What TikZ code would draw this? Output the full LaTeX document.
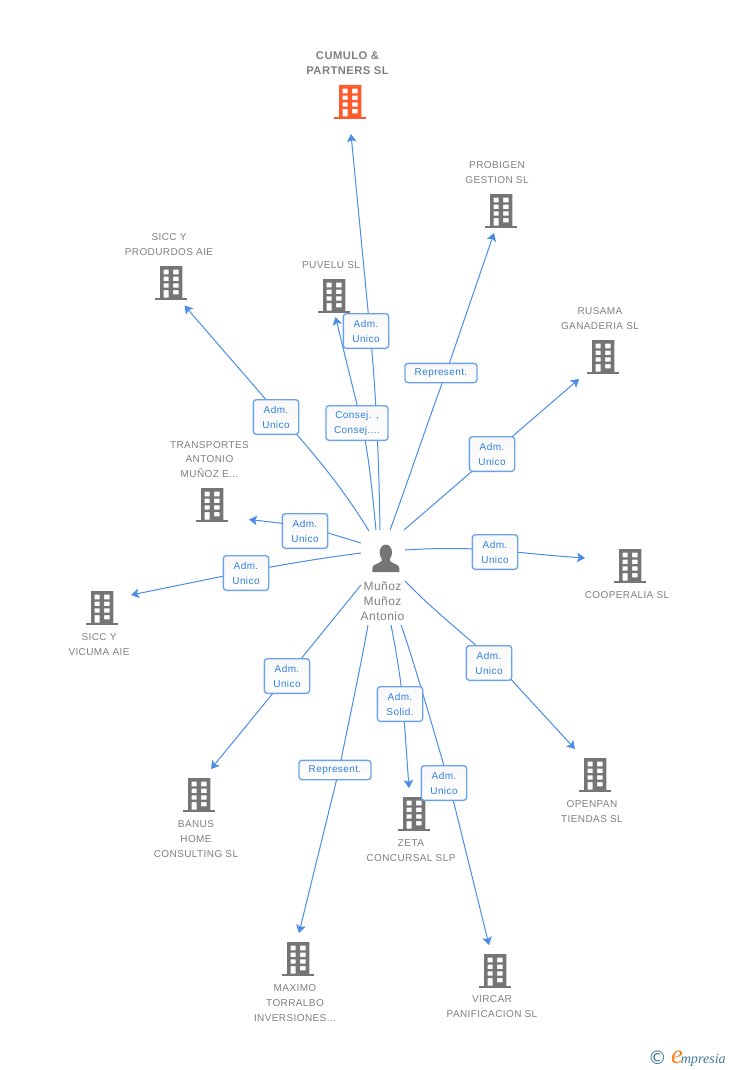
\documentclass[tikz,border=0pt]{standalone}
\usepackage{fontspec}
\setmainfont[LetterSpace=4]{Liberation Sans}
\newfontfamily\serifit{Liberation Serif}
\newfontfamily\dejavu{DejaVu Sans}
\usetikzlibrary{arrows.meta}
\definecolor{linkblue}{HTML}{4A8CE6}
\definecolor{boxblue}{HTML}{6AA3EA}
\definecolor{labelblue}{HTML}{2F7FE0}
\definecolor{graytxt}{HTML}{7F7F7F}
\definecolor{iconorange}{HTML}{FF5A2C}
\definecolor{icongray}{HTML}{757575}
\definecolor{teal}{HTML}{3E7C96}
\definecolor{eorange}{HTML}{F58220}
\tikzset{
 x=0.75pt,y=-0.75pt,
 link/.style={draw=linkblue,line width=0.75pt,line join=round,-{Stealth[length=6pt,width=7.2pt,inset=1.4pt]}},
 tag/.style={draw=boxblue,top color=black!3,bottom color=white,line width=1pt,rounded corners=2.2pt,text=labelblue,font=\fontsize{7.5}{11.2}\selectfont,align=center,inner sep=0pt,minimum width=34pt,minimum height=26pt},
 tagwide/.style={tag,minimum height=14.5pt},
 nametxt/.style={text=graytxt,font=\fontsize{7.5}{11.2}\selectfont,align=center,inner sep=0pt},
 pics/building/.style={code={
   \fill[#1,even odd rule] (-11,-17) rectangle (11.3,15)
     (-7.3,-13.3) rectangle (-2.3,-8.7) (2.2,-13.3) rectangle (7.7,-8.7)
     (-7.3,-6.3) rectangle (-2.3,-2) (2.2,-6.3) rectangle (7.7,-2)
     (-7.3,0.3) rectangle (-2.3,4.7) (2.2,0.3) rectangle (7.7,4.7)
     (-7.3,7) rectangle (-2.3,14.5) (2.2,7) rectangle (7.7,11.4);
   \fill[#1] (-15.7,14.7) rectangle (16,17);
 }}
}
\begin{document}
\begin{tikzpicture}
\useasboundingbox (0,0) rectangle (728,1070);
% buildings
\pic at (350,102) {building=iconorange};
\pic at (501,211) {building=icongray};
\pic at (171,283) {building=icongray};
\pic at (334,296) {building=icongray};
\pic at (603,357) {building=icongray};
\pic at (212,505) {building=icongray};
\pic at (630,566) {building=icongray};
\pic at (102,608) {building=icongray};
\pic at (199,795) {building=icongray};
\pic at (595,775) {building=icongray};
\pic at (414,814) {building=icongray};
\pic at (298,959) {building=icongray};
\pic at (495,971) {building=icongray};
% person
\fill[icongray] (385.8,552.5) ellipse (6.2 and 8);
\fill[icongray] (372.3,572) -- (372.3,568) .. controls (372.3,564) and (379,564) .. (381.5,561) -- (381.5,556) -- (390,556) -- (390,561) .. controls (392.5,564) and (399.3,564) .. (399.3,568) -- (399.3,572) -- cycle;
% start coordinates
\coordinate (s1) at (380,530);
\coordinate (s2) at (376,530);
\coordinate (s3) at (390,530);
\coordinate (s4) at (369,531);
\coordinate (s5) at (404,530);
\coordinate (s6) at (361,543);
\coordinate (s7) at (405,550);
\coordinate (s8) at (361,553);
\coordinate (s9) at (361,585);
\coordinate (s10) at (405,581);
\coordinate (s11) at (391,625);
\coordinate (s12) at (368,625);
\coordinate (s13) at (401,625);
% end coordinates
\coordinate (e1) at (351,134);
\coordinate (e2) at (335.5,317);
\coordinate (e3) at (494,233);
\coordinate (e4) at (184.5,305.5);
\coordinate (e5) at (579,379);
\coordinate (e6) at (249,519.5);
\coordinate (e7) at (585,558);
\coordinate (e8) at (131,595);
\coordinate (e9) at (211,769);
\coordinate (e10) at (575,749);
\coordinate (e11) at (409,788);
\coordinate (e12) at (299,933);
\coordinate (e13) at (489,945);
% points where the connectors pass behind the labels
\coordinate (v1) at (370,331);
\coordinate (v2) at (361.5,423);
\coordinate (v3) at (446,373);
\coordinate (v4) at (281,417);
\coordinate (v5) at (492,454);
\coordinate (v6) at (305,526);
\coordinate (v7) at (495,550);
\coordinate (v8) at (246,571.5);
\coordinate (v9) at (287,676);
\coordinate (v10) at (496,663);
\coordinate (v11) at (403,704);
\coordinate (v12) at (339,770);
\coordinate (v13) at (449,783);
% connectors
\draw[link] (s1) .. controls (379,460) and (376,390) .. (v1) -- (e1);
\draw[link] (s2) .. controls (372,490) and (369,455) .. (v2) -- (e2);
\draw[link] (s3) .. controls (405,490) and (430,415) .. (v3) -- (e3);
\draw[link] (s4) .. controls (350,500) and (325,465) .. (v4) -- (e4);
\draw[link] (s5) -- (v5) -- (e5);
\draw[link] (s6) -- (v6) -- (e6);
\draw[link] (s7) .. controls (435,548) and (465,548) .. (v7) .. controls (525,553) and (555,556) .. (e7);
\draw[link] (s8) .. controls (330,557) and (300,561.5) .. (v8) -- (e8);
\draw[link] (s9) -- (v9) -- (e9);
\draw[link] (s10) .. controls (435,612) and (465,635) .. (v10) -- (e10);
\draw[link] (s11) .. controls (396,650) and (401,680) .. (v11) .. controls (405,730) and (407,760) .. (e11);
\draw[link] (s12) .. controls (360,670) and (347,730) .. (v12) -- (e12);
\draw[link] (s13) .. controls (412,655) and (435,735) .. (v13) -- (e13);
% edge labels
\node[tag] (t1) at (366,331) {Adm.\\Unico};
\node[tag,minimum width=46.5pt] (t2) at (357,423) {Consej. ,\\Consej....};
\node[tagwide,minimum width=54pt] (t3) at (441,373) {Represent.};
\node[tag] (t4) at (276,417) {Adm.\\Unico};
\node[tag] (t5) at (492,454) {Adm.\\Unico};
\node[tag] (t6) at (305,531) {Adm.\\Unico};
\node[tag] (t7) at (495,552) {Adm.\\Unico};
\node[tag] (t8) at (246,573) {Adm.\\Unico};
\node[tag] (t9) at (287,676) {Adm.\\Unico};
\node[tag] (t10) at (489,663) {Adm.\\Unico};
\node[tag] (t11) at (400,704) {Adm.\\Solid.};
\node[tagwide,minimum width=54pt] (t12) at (335,770) {Represent.};
\node[tag] (t13) at (444,783) {Adm.\\Unico};
% names
\node[nametxt,font=\fontsize{8.4}{11.2}\selectfont\bfseries] (n1) at (347.5,63.5) {CUMULO \&\\PARTNERS SL};
\node[nametxt] (n2) at (497,172.5) {PROBIGEN\\GESTION SL};
\node[nametxt] (n3) at (169,244.5) {SICC Y\\PRODURDOS AIE};
\node[nametxt] (n4) at (331,265) {PUVELU SL};
\node[nametxt] (n5) at (600,318.5) {RUSAMA\\GANADERIA SL};
\node[nametxt] (n6) at (209.5,459.5) {TRANSPORTES\\ANTONIO\\MUÑOZ E...};
\node[nametxt] (n7) at (627,595) {COOPERALIA SL};
\node[nametxt] (n8) at (99,644.5) {SICC Y\\VICUMA AIE};
\node[nametxt] (n9) at (196,839) {BANUS\\HOME\\CONSULTING SL};
\node[nametxt] (n10) at (592,811.5) {OPENPAN\\TIENDAS SL};
\node[nametxt] (n11) at (411,850.5) {ZETA\\CONCURSAL SLP};
\node[nametxt] (n12) at (295,1003) {MAXIMO\\TORRALBO\\INVERSIONES...};
\node[nametxt] (n13) at (492,1007) {VIRCAR\\PANIFICACION SL};
\node[nametxt,font=\fontsize{9}{11.4}\selectfont] (p) at (382.5,601) {Muñoz\\Muñoz\\Antonio};
% footer
\node[inner sep=0pt,text=teal,font=\dejavu\fontsize{14}{14}\selectfont] (c) at (657.5,1058) {©};
\node[inner sep=0pt,text=eorange,font=\serifit\itshape\fontsize{20}{20}\selectfont] (em) at (677,1057) {e};
\node[inner sep=0pt,text=teal,font=\serifit\itshape\fontsize{10.6}{12}\selectfont,anchor=west] (br) at (680.5,1060) {mpresia};
\end{tikzpicture}
\end{document}
